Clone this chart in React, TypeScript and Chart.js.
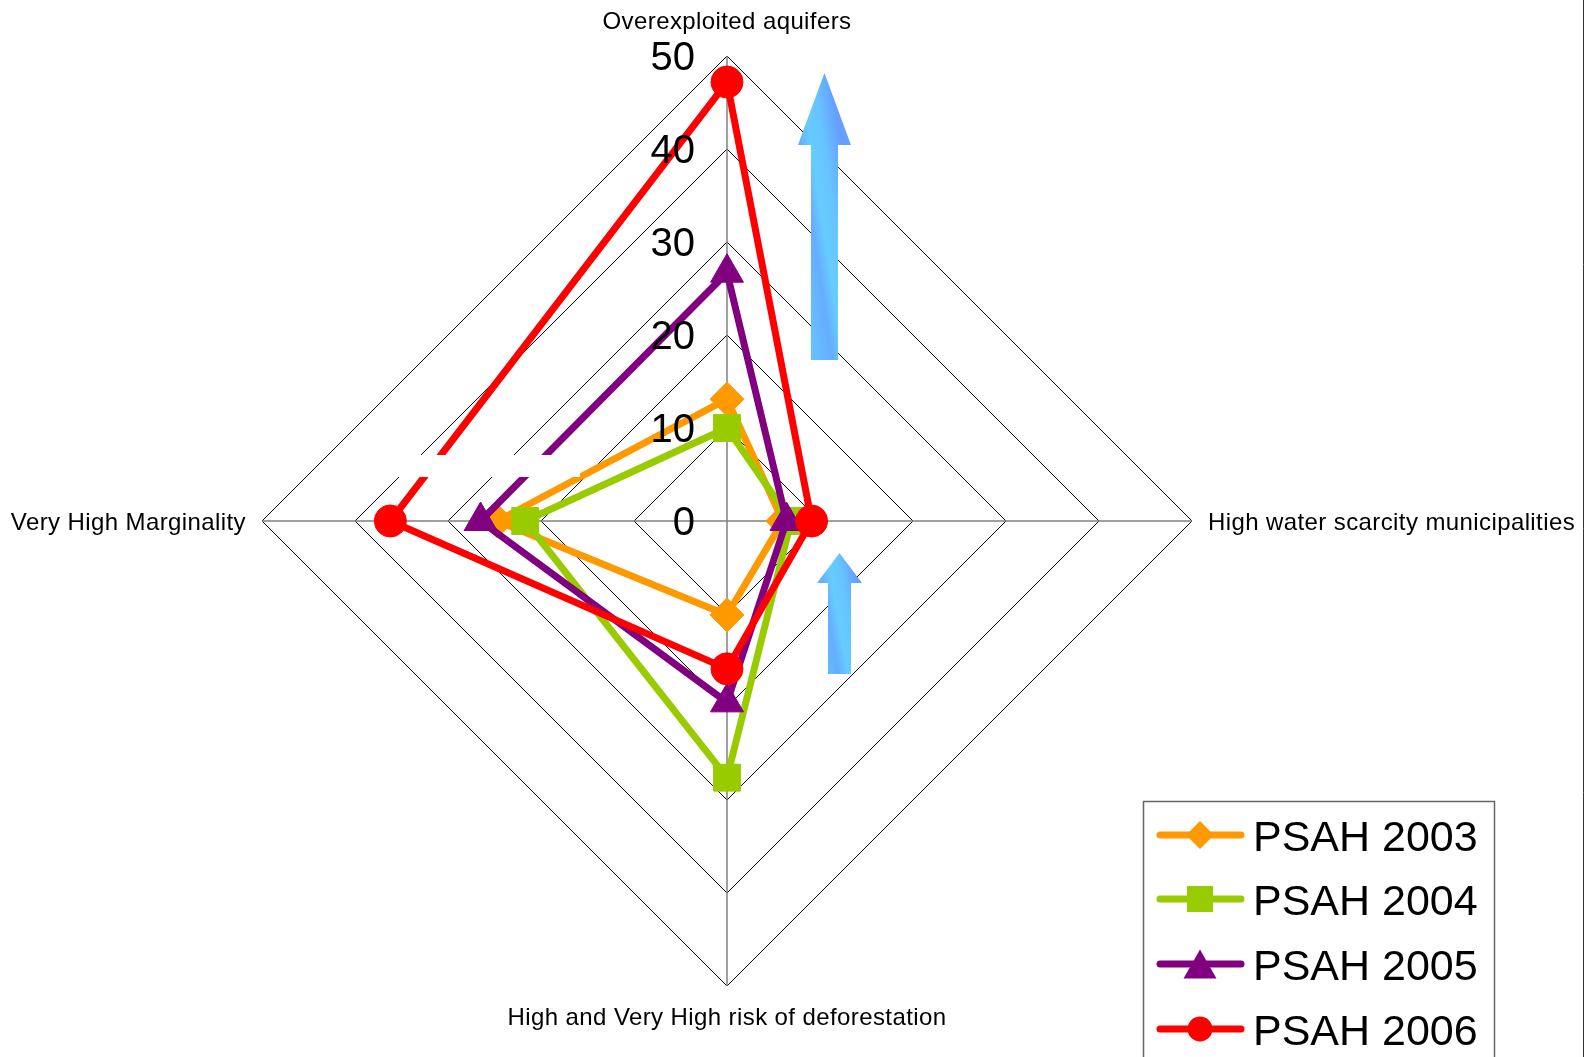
import React, { useEffect, useRef } from 'react';
import { Chart, registerables } from 'chart.js';

Chart.register(...registerables);

const categories = [
  'Overexploited aquifers',
  'High water scarcity municipalities',
  'High and Very High risk of deforestation',
  'Very High Marginality',
];
const seriesNames = ['PSAH 2003', 'PSAH 2004', 'PSAH 2005', 'PSAH 2006'];
const psah2003 = [13.1, 6.0, 10.1, 24.7];
const psah2004 = [10.0, 6.9, 27.6, 21.7];
const psah2005 = [26.7, 6.4, 19.5, 26.5];
const psah2006 = [47.2, 9.1, 15.9, 36.2];
const tickValues = [0, 10, 20, 30, 40, 50];

const colors = ['#FF9900', '#99CC00', '#800080', '#FF0000'];
const pointStyles = ['rectRot', 'rect', 'triangle', 'circle'];
const pointRadii = [17, 19, 19, 16];

const FONT = '"Liberation Sans", Arial, sans-serif';

// Arrow annotations in value units relative to the radial scale centre
const arrows = [
  { x: 10.48, tip: 48.17, headBase: 40.43, bottom: 17.31, headHalf: 2.85, shaftHalf: 1.45 },
  { x: 12.1, tip: -3.44, headBase: -6.67, bottom: -16.45, headHalf: 2.42, shaftHalf: 1.24 },
];
// White mask (value units)
const mask = { x0: -42.15, x1: -15.8, y0: 7.1, y1: 4.73 };

function drawMarker(ctx: CanvasRenderingContext2D, style: string, x: number, y: number, r: number) {
  ctx.beginPath();
  if (style === 'circle') {
    ctx.arc(x, y, r, 0, Math.PI * 2);
  } else if (style === 'rect') {
    ctx.rect(x - r, y - r, 2 * r, 2 * r);
  } else if (style === 'rectRot') {
    ctx.moveTo(x, y - r);
    ctx.lineTo(x + r, y);
    ctx.lineTo(x, y + r);
    ctx.lineTo(x - r, y);
    ctx.closePath();
  } else if (style === 'triangle') {
    ctx.moveTo(x, y - r);
    ctx.lineTo(x + r * 1.0, y + r * 0.75);
    ctx.lineTo(x - r * 1.0, y + r * 0.75);
    ctx.closePath();
  }
  ctx.fill();
}

const overlayPlugin = {
  id: 'overlay',
  afterDatasetsDraw(chart: any) {
    const ctx: CanvasRenderingContext2D = chart.ctx;
    const scale = chart.scales.r;
    const cx = scale.xCenter;
    const cy = scale.yCenter;
    const u = scale.getDistanceFromCenterForValue(1) - scale.getDistanceFromCenterForValue(0);
    ctx.save();
    // white mask
    ctx.fillStyle = '#FFFFFF';
    ctx.fillRect(cx + mask.x0 * u, cy - mask.y0 * u, (mask.x1 - mask.x0) * u, (mask.y0 - mask.y1) * u);

    // arrows
    arrows.forEach((a) => {
      const ax = cx + a.x * u;
      const tipY = cy - a.tip * u;
      const hbY = cy - a.headBase * u;
      const botY = cy - a.bottom * u;
      const hh = a.headHalf * u;
      const sh = a.shaftHalf * u;
      const midY = (tipY + botY) / 2;
      const g = ctx.createLinearGradient(ax - hh, midY + 4, ax + hh, midY - 4);
      g.addColorStop(0, '#66BDFF');
      g.addColorStop(0.25, '#66ADFF');
      g.addColorStop(0.45, '#66CCFF');
      g.addColorStop(0.7, '#66C4FF');
      g.addColorStop(1, '#669FFF');
      ctx.fillStyle = g;
      ctx.beginPath();
      ctx.moveTo(ax, tipY);
      ctx.lineTo(ax + hh, hbY);
      ctx.lineTo(ax + sh, hbY);
      ctx.lineTo(ax + sh, botY);
      ctx.lineTo(ax - sh, botY);
      ctx.lineTo(ax - sh, hbY);
      ctx.lineTo(ax - hh, hbY);
      ctx.closePath();
      ctx.fill();
    });

    // tick labels
    ctx.fillStyle = '#000';
    ctx.font = `40px ${FONT}`;
    ctx.textAlign = 'right';
    ctx.textBaseline = 'alphabetic';
    tickValues.forEach((v) => {
      const d = scale.getDistanceFromCenterForValue(v);
      ctx.fillText(String(v), cx - 32, cy - d + 14);
    });

    // point labels
    ctx.font = `24px ${FONT}`;
    (ctx as any).letterSpacing = '0.4px';
    const R = scale.drawingArea;
    categories.forEach((label, i) => {
      const p = scale.getPointPosition(i, R);
      if (i === 0) {
        ctx.textAlign = 'center';
        ctx.fillText(label, p.x, p.y - 27);
      } else if (i === 1) {
        ctx.textAlign = 'left';
        ctx.fillText(label, p.x + 16, p.y + 8.5);
      } else if (i === 2) {
        ctx.textAlign = 'center';
        ctx.fillText(label, p.x, p.y + 39);
      } else {
        ctx.textAlign = 'right';
        ctx.fillText(label, p.x - 16, p.y + 8.5);
      }
    });
    (ctx as any).letterSpacing = '0px';
    ctx.restore();
  },
  afterDraw(chart: any) {
    const ctx: CanvasRenderingContext2D = chart.ctx;
    ctx.save();
    // outer right border
    ctx.strokeStyle = '#333';
    ctx.lineWidth = 1;
    ctx.beginPath();
    ctx.moveTo(1583.5, 0);
    ctx.lineTo(1583.5, chart.height);
    ctx.stroke();

    // legend box
    ctx.strokeStyle = '#666';
    ctx.lineWidth = 1.5;
    ctx.strokeRect(1143.5, 801.5, 351, 320);
    const rows = [835, 899, 964, 1029];
    const legendR = [14, 13, 16.5, 12.5];
    seriesNames.forEach((name, i) => {
      const y = rows[i];
      ctx.strokeStyle = colors[i];
      ctx.lineWidth = 7;
      ctx.lineCap = 'round';
      ctx.beginPath();
      ctx.moveTo(1160, y);
      ctx.lineTo(1241, y);
      ctx.stroke();
      ctx.fillStyle = colors[i];
      drawMarker(ctx, pointStyles[i], 1200, pointStyles[i] === 'triangle' ? y + 2 : y, legendR[i]);
      ctx.fillStyle = '#000';
      ctx.font = `43px ${FONT}`;
      ctx.textAlign = 'left';
      ctx.textBaseline = 'alphabetic';
      ctx.fillText(name, 1253, y + 16);
    });
    ctx.restore();
  },
};

export default function App() {
  const ref = useRef<HTMLCanvasElement | null>(null);
  useEffect(() => {
    if (!ref.current) return;
    const series = [psah2003, psah2004, psah2005, psah2006];
    const chart = new Chart(ref.current, {
      type: 'radar',
      data: {
        labels: categories,
        datasets: series.map((d, i) => ({
          label: seriesNames[i],
          data: d,
          borderColor: colors[i],
          backgroundColor: colors[i],
          borderWidth: 7,
          fill: false,
          pointStyle: pointStyles[i] as any,
          pointRadius: pointRadii[i],
          pointBackgroundColor: colors[i],
          pointBorderColor: colors[i],
          pointBorderWidth: 1,
          order: 3 - i,
        })),
      },
      options: {
        responsive: false,
        animation: false,
        layout: { padding: { left: 262, right: 399, top: 56, bottom: 71 } },
        plugins: { legend: { display: false }, tooltip: { enabled: false } },
        elements: { line: { tension: 0, borderJoinStyle: 'round' as any } },
        scales: {
          r: {
            min: 0,
            max: 50,
            ticks: { stepSize: 10, display: false },
            pointLabels: { display: false },
            grid: { color: '#000000', lineWidth: 1 },
            angleLines: { color: '#808080', lineWidth: 1.5 },
          },
        },
      },
      plugins: [overlayPlugin],
    });
    return () => chart.destroy();
  }, []);
  return (
    <div style={{ position: 'fixed', left: 0, top: 0, width: 1591, height: 1057, background: '#fff' }}>
      <canvas ref={ref} width={1591} height={1057} style={{ display: 'block' }} />
    </div>
  );
}
